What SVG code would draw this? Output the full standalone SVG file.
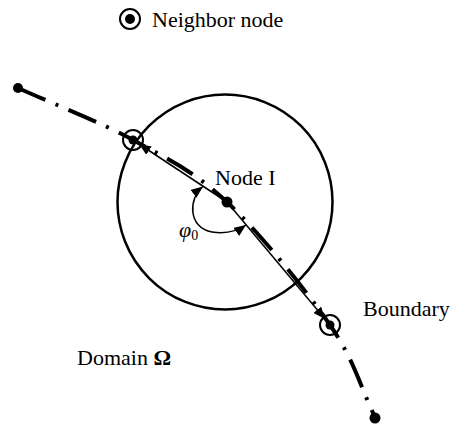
<svg xmlns="http://www.w3.org/2000/svg" width="457" height="430" viewBox="0 0 457 430">
<style>
text{font-family:"Liberation Serif","Times New Roman",serif;font-size:22px;fill:#000}
.dot{fill:#000}
.ring{fill:none;stroke:#000;stroke-width:2}
.chord{fill:none;stroke:#000;stroke-width:1.5}
</style>
<defs>
<marker id="ah" viewBox="0 0 12 10" refX="12" refY="5" markerWidth="12" markerHeight="10" markerUnits="userSpaceOnUse" orient="auto-start-reverse">
<path d="M0,0 L12,5 L0,10 z" fill="#000"/>
</marker>
</defs>
<g id="legend">
<circle class="ring" cx="130" cy="19" r="10"/>
<circle class="dot" cx="130" cy="19" r="5"/>
<text x="152" y="27">Neighbor node</text>
</g>
<g id="support-domain">
<circle cx="225" cy="202" r="107.5" fill="none" stroke="#000" stroke-width="2.5"/>
</g>
<g id="connectors">
<path d="M18,88 C56.3,105.3 98.2,121 133,140 C167.8,159 194.2,171.2 227,202 C259.8,232.8 305.3,289.2 330,325 C354.7,360.8 360,386.3 375,417" fill="none" stroke="#000" stroke-width="4" stroke-dasharray="30 11 3 11"/>
<line class="chord" x1="227" y1="202" x2="139" y2="144" marker-end="url(#ah)"/>
<line class="chord" x1="227" y1="202" x2="325" y2="319" marker-end="url(#ah)"/>
<path class="chord" d="M203,186.5 C188,198 188,228 212,232 Q232,235 246,225" stroke-width="2" marker-start="url(#ah)" marker-end="url(#ah)"/>
</g>
<g id="end-start">
<circle class="dot" cx="18" cy="88" r="5"/>
</g>
<g id="end-stop">
<circle class="dot" cx="375" cy="418" r="5.5"/>
</g>
<g id="neighbor-1">
<circle class="ring" cx="133" cy="140" r="10"/>
<circle class="dot" cx="133" cy="140" r="4.5"/>
</g>
<g id="neighbor-2">
<circle class="ring" cx="330" cy="325" r="10"/>
<circle class="dot" cx="330" cy="325" r="4.5"/>
</g>
<g id="node-I">
<circle class="dot" cx="227" cy="202" r="5.5"/>
<text x="215" y="185">Node I</text>
</g>
<g id="angle-label">
<text x="179" y="237" font-style="italic">φ<tspan font-size="14" font-style="normal" dy="3">0</tspan></text>
</g>
<g id="boundary-label">
<text x="363" y="316">Boundary</text>
</g>
<g id="domain-label">
<text x="77" y="365">Domain <tspan font-weight="bold">Ω</tspan></text>
</g>
</svg>
